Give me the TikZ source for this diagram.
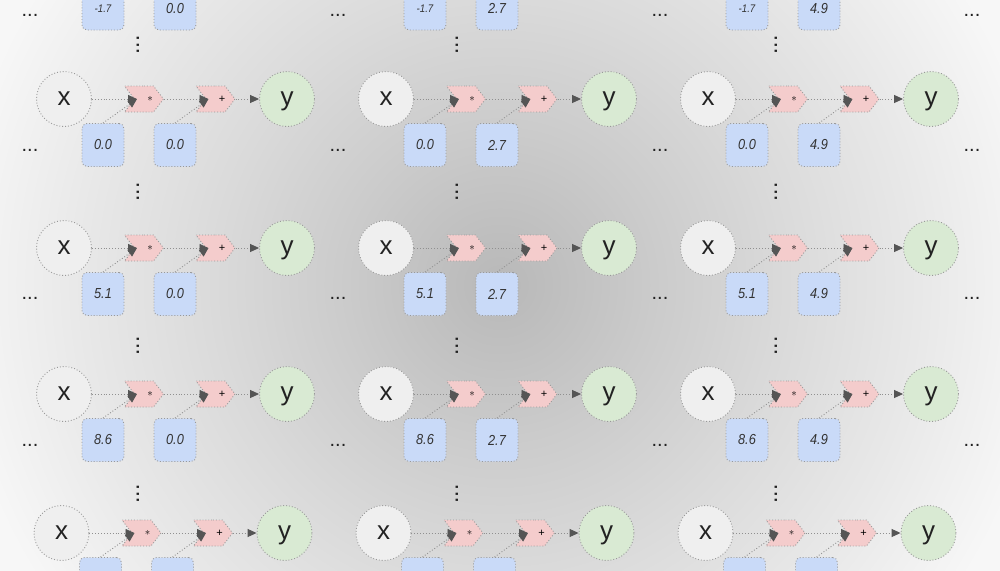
\documentclass[tikz,border=0pt]{standalone}
\usepackage{fontspec}
\setmainfont{Liberation Sans}
\usepackage{graphicx}
\usetikzlibrary{shapes.symbols,arrows.meta}
\definecolor{bgA}{HTML}{B8B8B8}
\definecolor{bgB}{HTML}{CBCBCB}
\definecolor{bgC}{HTML}{DADADA}
\definecolor{bgD}{HTML}{E8E8E8}
\definecolor{bgE}{HTML}{F7F7F7}
\definecolor{xgray}{HTML}{EFEFEF}
\definecolor{ygreen}{HTML}{D9EAD3}
\definecolor{opred}{HTML}{F4CCCC}
\definecolor{boxblue}{HTML}{C9DAF8}
\definecolor{bordergray}{HTML}{999999}
\definecolor{edgegray}{HTML}{909090}
\definecolor{arrowgray}{HTML}{555555}
\definecolor{textgray}{HTML}{333333}
\definecolor{labelblack}{HTML}{222222}
\pgfdeclareradialshading{bgshade}{\pgfpoint{0bp}{0bp}}{color(0bp)=(bgA); color(7bp)=(bgB); color(13bp)=(bgC); color(19bp)=(bgD); color(25bp)=(bgE); color(50bp)=(bgE)}
\tikzset{
  base/.style={draw=bordergray, line width=0.9pt, dotted},
  xnode/.style={base, circle, fill=xgray, minimum size=55pt, inner sep=0pt, text=labelblack, text depth=0pt, font=\fontsize{26}{26}\selectfont},
  ynode/.style={base, circle, fill=ygreen, minimum size=55pt, inner sep=0pt, text=labelblack, text depth=0pt, font=\fontsize{26}{26}\selectfont},
  opnode/.style={base, signal, signal to=east, signal from=west, signal pointer angle=105, fill=opred, minimum width=39pt, minimum height=26pt, inner sep=0pt},
  oplabel/.style={inner sep=0pt, text=black, font=\fontsize{11}{11}\selectfont},
  pbox/.style={base, rounded corners=5pt, fill=boxblue, minimum width=42pt, minimum height=43pt, inner sep=0pt, text=textgray, font=\fontsize{14.5}{14.5}\selectfont\itshape},
  edge/.style={draw=edgegray, line width=0.9pt, dotted, -{Triangle[length=9pt,width=8pt,color=arrowgray]}},
  hdots/.style={inner sep=0pt, text=labelblack, font=\fontsize{20}{20}\selectfont},
  vdots/.style={inner sep=0pt, rotate=90, text=labelblack, font=\fontsize{23}{23}\selectfont},
}
\begin{document}
\begin{tikzpicture}[x=1pt,y=-1pt]
\useasboundingbox (0,0) rectangle (1000,570);
\clip (0,0) rectangle (1000,570);
\shade[shading=bgshade] (-50,-265) rectangle (1050,835);
% top row: only the parameter boxes reach into the picture
\foreach \c/\cx/\pb in {1/64/0.0, 2/386/2.7, 3/708/4.9} {
  \begin{scope}[shift={(\cx,-37.5)}]
    \node[pbox] (p0\c) at (39,46) {\scalebox{0.88}[1]{\fontsize{11}{11}\selectfont -1.7}};
    \node[pbox] (q0\c) at (111,46) {\scalebox{0.88}[1]{\pb}};
  \end{scope}
}
\foreach \r/\cy/\dx/\pa in {1/99/0/0.0, 2/248/0/5.1, 3/394/0/8.6, 4/533/-2.5/{}} {
  \foreach \c/\cx/\pb in {1/64/0.0, 2/386/2.7, 3/708/4.9} {
    \begin{scope}[shift={(\cx+\dx,\cy)}]
      \node[xnode] (x\r\c) at (0,0) {x};
      \node[opnode] (m\r\c) at (80,0) {};
      \node[oplabel] (ms\r\c) at (86,0) {$\ast$};
      \node[opnode] (a\r\c) at (151.5,0) {};
      \node[oplabel] (as\r\c) at (158,0) {+};
      \node[ynode] (y\r\c) at (223,0) {y};
      \node[pbox] (p\r\c) at (39,46) {\ifnum\r=4\relax\else\scalebox{0.88}[1]{\pa}\fi};
      \node[pbox] (q\r\c) at (111,46) {\ifnum\r=4\relax\else\scalebox{0.88}[1]{\pb}\fi};
      \coordinate (mi\r\c) at (73,0);
      \coordinate (ai\r\c) at (144.5,0);
      \draw[edge] (x\r\c.east) -- (mi\r\c);
      \draw[edge] (p\r\c.north) -- (mi\r\c);
      \draw[edge] (m\r\c.east) -- (ai\r\c);
      \draw[edge] (q\r\c.north) -- (ai\r\c);
      \draw[edge] (a\r\c.east) -- (y\r\c.west);
    \end{scope}
  }
}
\foreach \i/\vy in {1/45,2/192,3/346,4/494} {
  \foreach \j/\vx in {1/138,2/457,3/776} {
    \node[vdots] (v\i\j) at (\vx,\vy) {...};
  }
}
\foreach \i/\hy in {0/15,1/150,2/298,3/445} {
  \foreach \j/\hx in {1/30,2/338,3/660,4/972} {
    \node[hdots] (h\i\j) at (\hx,\hy) {...};
  }
}
\end{tikzpicture}
\end{document}
